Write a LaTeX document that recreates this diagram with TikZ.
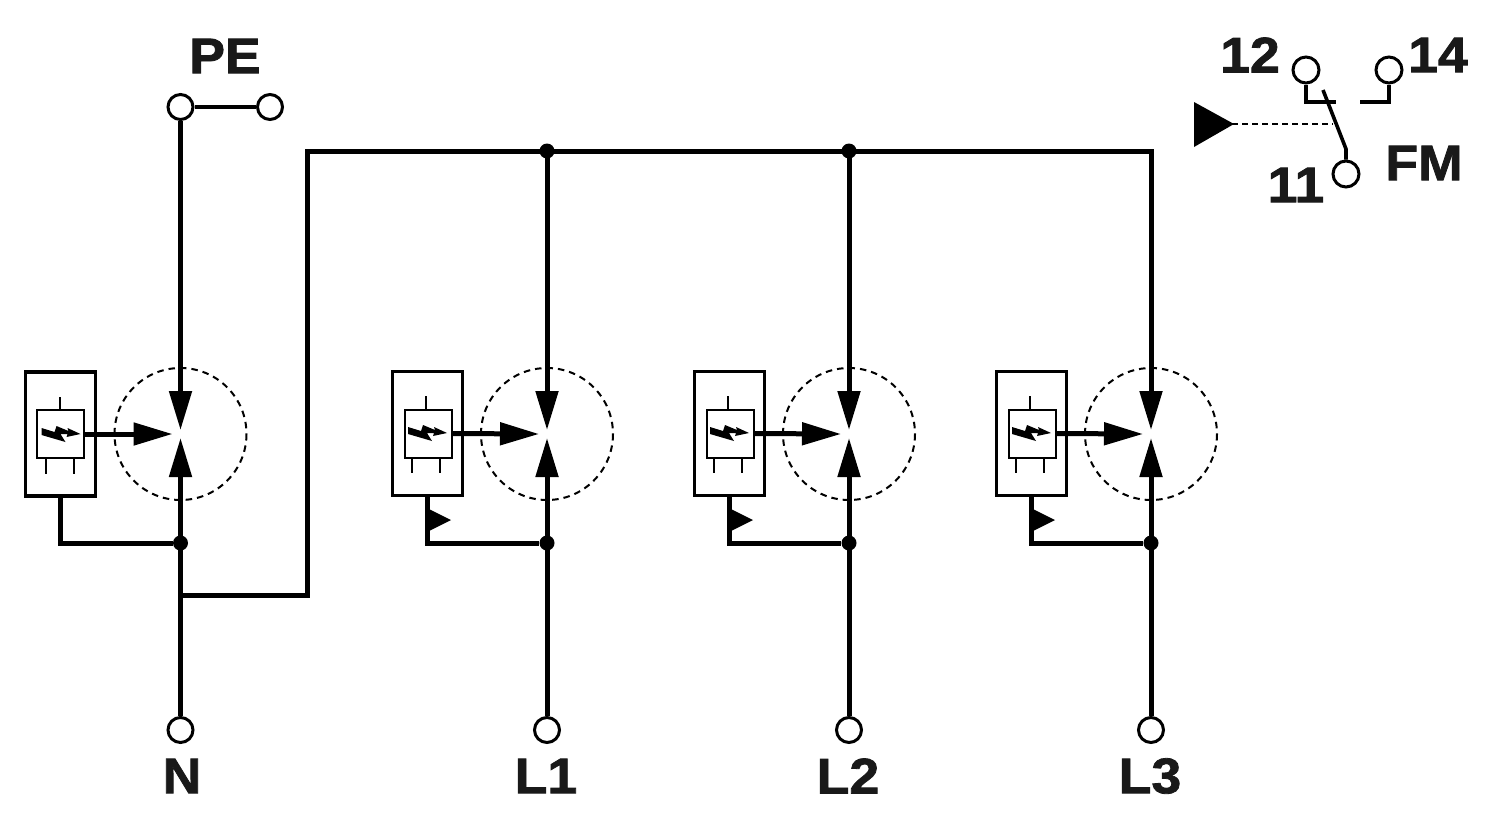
\documentclass[tikz,border=0pt]{standalone}
\usepackage{fontspec}
\setmainfont{Liberation Sans}[BoldFeatures={FakeBold=1.6, FakeStretch=1.07}]
\usetikzlibrary{arrows.meta}
\tikzset{
    wire/.style={line width=5pt},
    thinwire/.style={line width=2pt},
    terminal/.style={circle, draw, line width=3pt, fill=white, minimum size=25pt, inner sep=0pt},
    junction/.style={circle, fill=black, minimum size=15pt, inner sep=0pt},
    tag/.style={font=\bfseries\fontsize{50}{50}\selectfont, inner sep=0pt, text=black!90},
    bigtip/.style={-{Triangle[length=39pt, width=22pt]}},
    zone/.style={line width=2pt, dash pattern=on 6.5pt off 5pt},
    spdbox/.style={draw, line width=3.8pt, minimum width=70pt, minimum height=124pt, inner sep=0pt},
    spdcore/.style={draw, line width=2pt, minimum width=47pt, minimum height=48pt, inner sep=0pt},
    pics/spd/.style={code={
        \draw[thinwire] (-121,-37) -- (-121,-23);
        \draw[thinwire] (-135,25) -- (-135,40);
        \draw[thinwire] (-107,25) -- (-107,40);
        \fill (-139,-6) -- (-126,-2) -- (-124,-8) -- (-112,-3) -- (-113,-6) -- (-100,0)
            -- (-114,3) -- (-113,0) -- (-120,0) -- (-115,8) -- (-139,1) -- cycle;
    }}
}

\begin{document}
\begin{tikzpicture}[x=1pt, y=-1pt]
    \useasboundingbox (0,0) rectangle (1500,820);

    % N branch
    \node[terminal] (pe) at (180.5,107) {};
    \node[terminal] (pe2) at (270,107) {};
    \node[terminal] (tn) at (180.5,730) {};
    \node[tag] (lpe) at (225,56) {PE};
    \node[tag] (ln) at (182,776) {N};
    \coordinate (cn) at (180.5,434);
    \coordinate (tap) at (180.5,595);
    \node[junction] (jn) at (180.5,543) {};
    \node[spdbox] (bn) at (60.5,434) {};
    \node[spdcore] (sn) at (60.5,434) {};
    \draw[zone] (cn) circle (66);
    \draw[line width=3.5pt] (pe) -- (pe2);
    \draw[wire, bigtip] (pe) -- ([yshift=4pt]cn);
    \draw[wire, bigtip] (tn) -- ([yshift=-4pt]cn);
    \draw[wire, bigtip] (sn.east) -- ([xshift=-8pt]cn);
    \draw[wire] (bn.south) |- (jn);
    \pic at (cn) {spd};

    % phases
    \foreach \ph/\cx/\name in {a/547/L1, b/849/L2, c/1151/L3} {
        \node[terminal] (t\ph) at (\cx,730) {};
        \node[tag] (l\ph) at (\cx-1,776) {\name};
        \coordinate (c\ph) at (\cx,434);
        \coordinate (top\ph) at (\cx,151);
        \node[junction] (j\ph) at (\cx,543) {};
        \node[spdbox] (b\ph) at (\cx-119.5,433.5) {};
        \node[spdcore] (s\ph) at (\cx-119,433.5) {};
        \coordinate (k\ph) at (\cx-120,543);
        \draw[zone] (c\ph) circle (66);
        \draw[wire, bigtip] (top\ph) -- ([yshift=4pt]c\ph);
        \draw[wire, bigtip] (t\ph) -- ([yshift=-4pt]c\ph);
        \draw[wire, bigtip] (s\ph.east) -- ([xshift=-8pt]c\ph);
        \draw[wire] (b\ph.south -| k\ph) -- (k\ph) -- (j\ph);
        \fill (\cx-120,508) -- (\cx-96,520) -- (\cx-120,532) -- cycle;
        \pic at (\cx,433) {spd};
    }

    % bus
    \draw[wire, line join=miter] (tap) -| (307,151) -- (topc) -- ([yshift=-30pt]topc);
    \node[junction] (ja) at (topa) {};
    \node[junction] (jb) at (topb) {};

    % FM contact
    \node[terminal, minimum size=26pt] (r12) at (1306,70) {};
    \node[terminal, minimum size=26pt] (r14) at (1389,70) {};
    \node[terminal, minimum size=26pt] (r11) at (1346,174) {};
    \node[tag] (l12) at (1250,55) {12};
    \node[tag] (l14) at (1438,55) {14};
    \node[tag] (l11) at (1296,185) {11};
    \node[tag] (lfm) at (1424,163) {FM};
    \coordinate (knee) at (1346,149);
    \coordinate (blade) at (1323,90);
    \coordinate (sw) at (1333,124);
    \coordinate (flag) at (1232,124);
    \draw[line width=3.6pt] (r12) -- (1306,102) -- (1336,102);
    \draw[line width=3.6pt] (r14) -- (1389,102) -- (1360,102);
    \draw[line width=3.6pt] (r11) -- (knee) -- (blade);
    \draw[line width=2pt, dash pattern=on 6pt off 4pt] (flag) -- (sw);
    \fill (1194,102) -- (1234,124) -- (1194,147) -- cycle;
\end{tikzpicture}
\end{document}
